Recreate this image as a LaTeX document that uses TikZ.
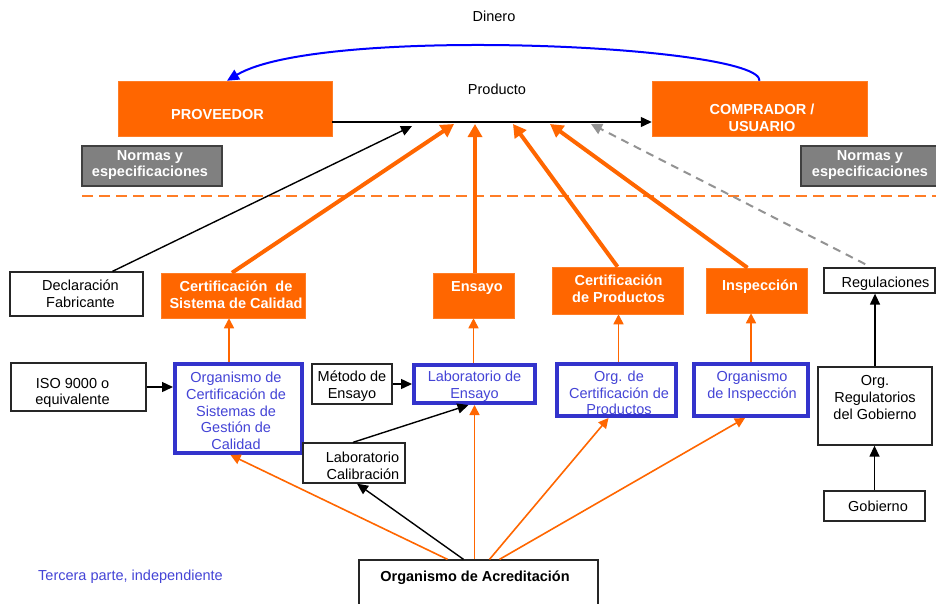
\documentclass[tikz,border=0pt]{standalone}
\usepackage{fontspec}
\setmainfont{Liberation Sans}
\usetikzlibrary{arrows.meta}
\definecolor{org}{RGB}{255,102,0}
\definecolor{bbord}{RGB}{51,51,204}
\definecolor{btxt}{RGB}{68,68,214}
\definecolor{gfill}{RGB}{128,128,128}
\newcommand\myfs{\fontsize{14.5}{16.7}\selectfont}
% \bx{name}{x1}{y1}{x2}{y2}{kind}{text}{dx}{dy}
\newcommand\bx[9]{%
  \node[#6box, minimum width={#4-#2}, minimum height={#5-#3}] (#1) at ({(#2+#4)/2},{(#3+#5)/2}) {};
  \node[#6text] (#1t) at ([xshift={(#8)*1pt}, yshift={-(#9)*1pt}]#1.center) {#7};}
\begin{document}
\begin{tikzpicture}[x=1pt,y=-1pt,
  obox/.style={fill=org, draw=org!85, line width=0.5pt, inner sep=0pt},
  otext/.style={text=white, font=\bfseries\myfs, align=center, inner sep=0pt},
  wbox/.style={draw=black!85, line width=1.3pt, fill=white, inner sep=0pt},
  wtext/.style={text=black, font=\myfs, align=center, inner sep=0pt},
  wrbox/.style={wbox},
  wrtext/.style={text=black, font=\myfs, align=right, inner sep=0pt},
  bbox/.style={draw=bbord, line width=4pt, fill=white, inner sep=0pt},
  btext/.style={text=btxt, font=\myfs, align=center, inner sep=0pt},
  gbox/.style={fill=gfill, draw=black!75, line width=1.3pt, inner sep=0pt},
  gtext/.style={text=white, font=\bfseries\myfs, align=center, inner sep=0pt},
  plain/.style={font=\myfs, inner sep=0pt},
  blk/.style={draw=black, line width=1.4pt, -{Triangle[length=11pt,width=10pt]}},
  othick/.style={draw=org, line width=4pt, -{Triangle[length=13pt,width=14pt]}},
  othin/.style={draw=org, line width=1.6pt, -{Triangle[length=10pt,width=10pt]}},
  gdash/.style={draw=gray!85, line width=2pt, dash pattern=on 8pt off 6pt, -{Triangle[length=11pt,width=11pt]}},
  bluearr/.style={draw=blue, line width=2pt, -{Triangle[length=12pt,width=11pt]}},
]
\useasboundingbox (0,0) rectangle (936,603);

% separator
\draw[draw=org!85, line width=1.6pt, dash pattern=on 11pt off 6pt] (82,196) -- (936,196);

% top boxes
\bx{prov}{118}{81}{332}{136}{o}{PROVEEDOR}{-7.5}{6.5}
\bx{comp}{652}{81}{867}{136}{o}{COMPRADOR /\\USUARIO}{2.5}{9}
\bx{nl}{82}{146}{222}{186}{g}{Normas y\\especificaciones}{-2}{-1}
\bx{nr}{801}{146}{938}{186}{g}{Normas y\\especificaciones}{0.5}{-1}

\node[plain] (din) at (494,16) {Dinero};
\node[plain] (prd) at (497,89) {Producto};

% middle orange boxes
\bx{decl}{10}{272}{143}{316}{w}{Declaración\\Fabricante}{4}{0}
\bx{cs}{161}{273}{305}{318}{o}{Certificación~ de\\Sistema de Calidad}{3}{-1}
\bx{ens}{433}{273}{514}{318}{o}{Ensayo}{3.5}{-7.5}
\bx{cp}{552}{267}{683}{314}{o}{Certificación\\de Productos}{1}{-1.5}
\bx{insp}{706}{268}{807}{313}{o}{Inspección}{3.5}{-3.5}
\bx{reg}{824}{268}{935}{293}{w}{Regulaciones}{6}{3.5}

% organisms row
\bx{iso}{11}{363}{146}{411}{w}{ISO 9000 o\\equivalente}{-6}{6}
\bx{ocs}{175}{364}{302}{453}{b}{Organismo de\\Certificación de\\Sistemas de\\Gestión de\\Calidad}{-2.5}{2.5}
\bx{met}{312}{364}{392}{404}{w}{Método de\\Ensayo}{0}{2.5}
\bx{le}{414}{365}{535}{403}{b}{Laboratorio de\\Ensayo}{0}{2}
\bx{lc}{303}{443}{405}{483}{wr}{Laboratorio\\Calibración}{8.5}{3}
\bx{ocp}{557}{364}{676}{416}{b}{Org. de\\Certificación de\\Productos}{2.5}{3}
\bx{oi}{694}{364}{808}{416}{b}{Organismo\\de Inspección}{1}{-3.5}
\bx{orr}{818}{367}{932}{445}{w}{Org.\\Regulatorios\\del Gobierno}{0}{-8.5}
\bx{gob}{824}{491}{925}{521}{w}{Gobierno}{3.5}{0}
\bx{acr}{359}{560}{598}{612}{w}{\textbf{Organismo de Acreditación}}{-3.5}{-8}

\node[plain, text=btxt] (terc) at (130.5,577) {Tercera parte, independiente};

% product line and money
\draw[blk] ([yshift=-13.5pt]prov.east) -- ([yshift=-13.5pt]comp.west);
\draw[bluearr] (comp.north) .. controls (762,45) and (320,25) .. ([xshift=2pt]prov.north);

% arrows to product line
\coordinate (t1) at (454,124);
\coordinate (t2) at (475,124);
\coordinate (t3) at (513,124);
\coordinate (t4) at (550,124);
\coordinate (t5) at (591,124);
\coordinate (t6) at (412,126);
\draw[othick] ([xshift=-1pt]cs.north) -- (t1);
\draw[othick] ([xshift=1.5pt]ens.north) -- (t2);
\draw[othick] (cp.north) -- (t3);
\draw[othick] ([xshift=-9pt]insp.north) -- (t4);
\draw[gdash, shorten <=7pt] ([xshift=-8pt]reg.north) -- (t5);
\draw[blk] ([xshift=36pt]decl.north) -- (t6);

% organisms to services
\draw[othin] ([xshift=-4pt]cs.south |- ocs.north) -- ([xshift=-4pt]cs.south);
\draw[othin] (le.north -| ens.south) -- (ens.south);
\draw[othin] ([xshift=1pt]cp.south |- ocp.north) -- ([xshift=1pt]cp.south);
\draw[othin] (oi.north) -- (oi.north |- insp.south);

% inputs
\draw[blk] (iso.east) -- (ocs.west |- iso.east);
\draw[blk] (met.east) -- (le.west |- met.east);
\draw[blk] ([xshift=-1pt]lc.north) -- ([xshift=-6pt]le.south);
\draw[blk] (orr.north) -- (orr.north |- reg.south);
\draw[blk] (gob.north) -- (gob.north |- orr.south);

% accreditation
\draw[othin] ([xshift=-31pt]acr.north) -- ([xshift=-8pt]ocs.south);
\draw[blk] ([xshift=-15pt]acr.north) -- ([xshift=3pt]lc.south);
\draw[othin] (le.south |- acr.north) -- (le.south);
\draw[othin] ([xshift=11pt]acr.north) -- ([xshift=-8pt]ocp.south);
\draw[othin] ([xshift=21pt]acr.north) -- ([xshift=-6pt]oi.south);
\end{tikzpicture}
\end{document}
